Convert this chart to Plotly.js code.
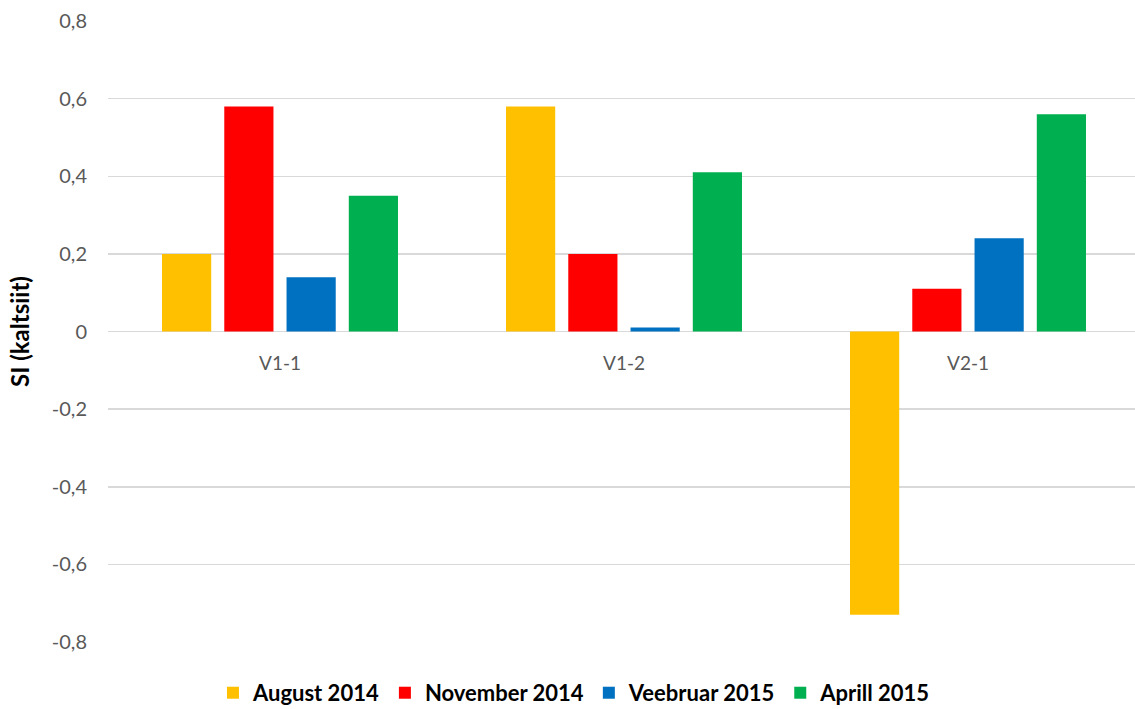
<!DOCTYPE html>
<html>
<head>
<meta charset="utf-8">
<script src="https://cdn.plot.ly/plotly-3.0.1.min.js"></script>
<style>
html,body{margin:0;padding:0;overflow:hidden;background:#fff;}
#chart{width:1145px;height:709px;}
</style>
</head>
<body>
<div id="chart"></div>
<script>
const categories = ["V1-1", "V1-2", "V2-1"];
const august2014 = [0.20, 0.58, -0.73];
const november2014 = [0.58, 0.20, 0.11];
const veebruar2015 = [0.14, 0.01, 0.24];
const aprill2015 = [0.35, 0.41, 0.56];
const seriesNames = ["August 2014", "November 2014", "Veebruar 2015", "Aprill 2015"];
const seriesColors = ["#FFC000", "#FF0000", "#0070C0", "#00B050"];
const yTickVals = [-0.8, -0.6, -0.4, -0.2, 0, 0.2, 0.4, 0.6, 0.8];
const yTickText = ["-0,8", "-0,6", "-0,4", "-0,2", "0", "0,2", "0,4", "0,6", "0,8"];

const allValues = [august2014, november2014, veebruar2015, aprill2015];
const traces = allValues.map((vals, i) => ({
  type: "bar",
  name: seriesNames[i],
  x: categories,
  y: vals,
  marker: {color: seriesColors[i]},
  hoverinfo: "x+y+name"
}));

const layout = {
  width: 1145,
  height: 709,
  margin: {l: 108, r: 5, t: 21, b: 67, autoexpand: false},
  paper_bgcolor: "#ffffff",
  plot_bgcolor: "#ffffff",
  barmode: "group",
  bargap: 0.276,
  bargroupgap: 0.21,
  font: {family: "Lato, 'Open Sans', sans-serif", size: 19, color: "#595959"},
  xaxis: {
    type: "category",
    anchor: "free",
    position: 0.5,
    showgrid: false,
    showline: false,
    zeroline: false,
    ticks: "",
    ticklabelstandoff: 18,
    tickfont: {size: 19, color: "#595959"}
  },
  yaxis: {
    range: [-0.8, 0.8],
    tickvals: yTickVals,
    ticktext: yTickText,
    showgrid: true,
    gridcolor: "#d9d9d9",
    gridwidth: 1.5,
    zeroline: true,
    zerolinecolor: "#d9d9d9",
    zerolinewidth: 1.5,
    showline: false,
    ticks: "",
    ticklabelstandoff: 20,
    tickfont: {size: 20, color: "#595959"},
    title: {text: "SI (kaltsiit)", font: {size: 24, color: "#000000", weight: "bold"}, standoff: 15}
  },
  showlegend: true,
  legend: {
    orientation: "h",
    x: 0.452,
    xanchor: "center",
    y: -0.082,
    yanchor: "middle",
    font: {size: 22, color: "#000000", weight: "bold"},
    itemwidth: 30,
    traceorder: "normal"
  }
};

Plotly.newPlot("chart", traces, layout, {displayModeBar: false, staticPlot: true});
</script>
</body>
</html>
